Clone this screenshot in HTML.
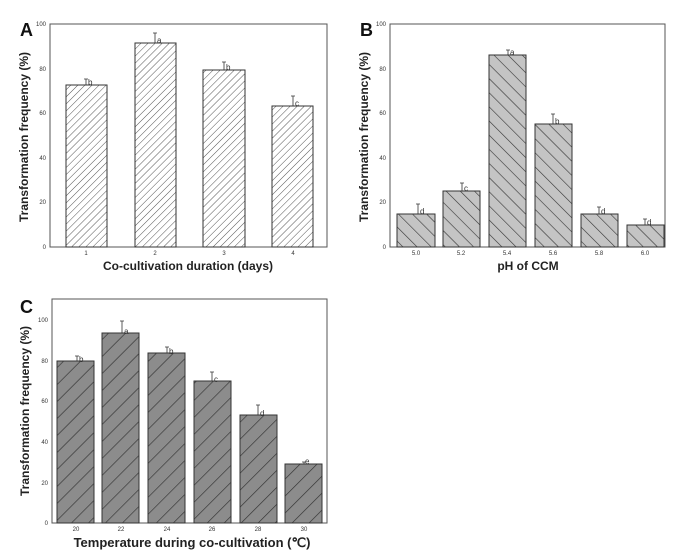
<!DOCTYPE html>
<html><head><style>body{margin:0;background:#fff}svg{display:block}text{font-family:"Liberation Sans",sans-serif}</style></head><body>
<svg width="675" height="558" viewBox="0 0 675 558" xmlns="http://www.w3.org/2000/svg">
<defs>
<pattern id="pa" width="5" height="5" patternUnits="userSpaceOnUse" patternTransform="rotate(45)"><rect width="5" height="5" fill="#fff"/><line x1="0" y1="0" x2="0" y2="5" stroke="#555" stroke-width="1"/></pattern>
<pattern id="pb" width="10" height="10" patternUnits="userSpaceOnUse" patternTransform="rotate(-45)"><rect width="10" height="10" fill="#c4c4c4"/><line x1="0" y1="0" x2="0" y2="10" stroke="#333" stroke-width="1.2"/></pattern>
<pattern id="pc" width="12" height="12" patternUnits="userSpaceOnUse" patternTransform="rotate(45)"><rect width="12" height="12" fill="#8c8c8c"/><line x1="0" y1="0" x2="0" y2="12" stroke="#333" stroke-width="1.3"/></pattern>
</defs>
<g font-size="6" fill="#333" text-anchor="end">
<rect x="50" y="24" width="277" height="223" fill="none" stroke="#555" stroke-width="1"/>
<text x="46" y="26">100</text><text x="46" y="71">80</text><text x="46" y="115">60</text><text x="46" y="160">40</text><text x="46" y="204">20</text><text x="46" y="249">0</text>
<rect x="390" y="24" width="275" height="223" fill="none" stroke="#555" stroke-width="1"/>
<text x="386" y="26">100</text><text x="386" y="71">80</text><text x="386" y="115">60</text><text x="386" y="160">40</text><text x="386" y="204">20</text><text x="386" y="249">0</text>
<rect x="52" y="299" width="275" height="224" fill="none" stroke="#555" stroke-width="1"/>
<text x="48" y="322">100</text><text x="48" y="363">80</text><text x="48" y="403">60</text><text x="48" y="444">40</text><text x="48" y="485">20</text><text x="48" y="525">0</text>
</g>
<g stroke="#333" stroke-width="1">
<rect x="66" y="85" width="41" height="162" fill="url(#pa)"/>
<rect x="135" y="43" width="41" height="204" fill="url(#pa)"/>
<rect x="203" y="70" width="42" height="177" fill="url(#pa)"/>
<rect x="272" y="106" width="41" height="141" fill="url(#pa)"/>
<rect x="397" y="214" width="38" height="33" fill="url(#pb)"/>
<rect x="443" y="191" width="37" height="56" fill="url(#pb)"/>
<rect x="489" y="55" width="37" height="192" fill="url(#pb)"/>
<rect x="535" y="124" width="37" height="123" fill="url(#pb)"/>
<rect x="581" y="214" width="37" height="33" fill="url(#pb)"/>
<rect x="627" y="225" width="37" height="22" fill="url(#pb)"/>
<rect x="57" y="361" width="37" height="162" fill="url(#pc)"/>
<rect x="102" y="333" width="37" height="190" fill="url(#pc)"/>
<rect x="148" y="353" width="37" height="170" fill="url(#pc)"/>
<rect x="194" y="381" width="37" height="142" fill="url(#pc)"/>
<rect x="240" y="415" width="37" height="108" fill="url(#pc)"/>
<rect x="285" y="464" width="37" height="59" fill="url(#pc)"/>
</g>
<g stroke="#333" stroke-width="0.8" fill="none">
<path d="M86 85V79M84 79H88M155 43V33M153 33H157M224 70V62M222 62H226M293 106V96M291 96H295"/>
<path d="M418 214V204M416 204H420M462 191V183M460 183H464M508 55V50M506 50H510M553 124V114M551 114H555M599 214V207M597 207H601M645 225V219M643 219H647"/>
<path d="M77 361V356M75 356H79M122 333V321M120 321H124M167 353V347M165 347H169M212 381V372M210 372H214M258 415V405M256 405H260M304 464V462M302 462H306"/>
</g>
<g font-size="8" fill="#333">
<text x="88" y="85">b</text><text x="157" y="43">a</text><text x="226" y="70">b</text><text x="295" y="106">c</text>
<text x="420" y="214">d</text><text x="464" y="191">c</text><text x="510" y="55">a</text><text x="555" y="124">b</text><text x="601" y="214">d</text><text x="647" y="225">d</text>
<text x="79" y="362">b</text><text x="124" y="334">a</text><text x="169" y="354">b</text><text x="214" y="382">c</text><text x="260" y="416">d</text><text x="305" y="464">e</text>
</g>
<g font-size="6" fill="#333" text-anchor="middle">
<text x="86" y="255">1</text><text x="155" y="255">2</text><text x="224" y="255">3</text><text x="293" y="255">4</text>
<text x="416" y="255">5.0</text><text x="461" y="255">5.2</text><text x="507" y="255">5.4</text><text x="553" y="255">5.6</text><text x="599" y="255">5.8</text><text x="645" y="255">6.0</text>
<text x="76" y="531">20</text><text x="121" y="531">22</text><text x="167" y="531">24</text><text x="212" y="531">26</text><text x="258" y="531">28</text><text x="304" y="531">30</text>
</g>
<g font-size="12" font-weight="bold" fill="#222" text-anchor="middle">
<text x="188" y="270">Co-cultivation duration (days)</text>
<text x="528" y="270">pH of CCM</text>
<text x="192" y="547" font-size="13">Temperature during co-cultivation (℃)</text>
<text transform="translate(28,137) rotate(-90)">Transformation frequency (%)</text>
<text transform="translate(368,137) rotate(-90)">Transformation frequency (%)</text>
<text transform="translate(29,411) rotate(-90)">Transformation frequency (%)</text>
</g>
<g font-size="18" font-weight="bold" fill="#111">
<text x="20" y="36">A</text><text x="360" y="36">B</text><text x="20" y="313">C</text>
</g>
</svg>
</body></html>
